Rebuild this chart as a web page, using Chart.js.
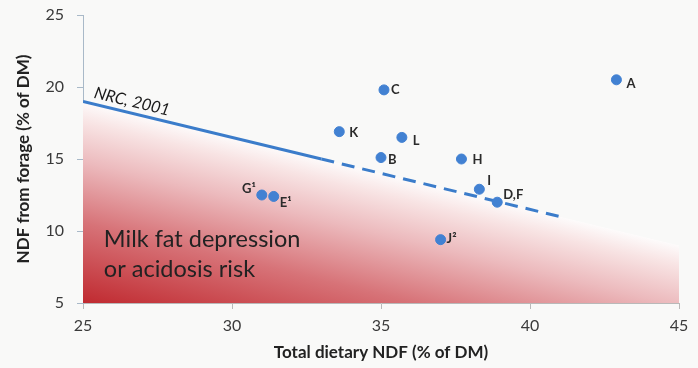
<!DOCTYPE html>
<html><head><meta charset="utf-8">
<script src="https://cdn.jsdelivr.net/npm/chart.js@4"></script>
<style>html,body{margin:0;padding:0;background:#f9f9f8;} #wrap{width:698px;height:368px;position:relative;}</style>
</head><body><div id="wrap"><canvas id="c"></canvas></div>
<script>
// ---- data ----
const pointLabels = ['A', 'C', 'K', 'L', 'B', 'H', 'I', 'D,F', 'G¹', 'E¹', 'J²'];
const pointX = [42.9, 35.1, 33.6, 35.7, 35.0, 37.7, 38.3, 38.9, 31.0, 31.4, 37.0];
const pointY = [20.5, 19.8, 16.9, 16.5, 15.1, 15.0, 12.9, 12.0, 12.5, 12.4, 9.4];
const nrcSolidX = [25, 33];
const nrcSolidY = [19, 15];
const nrcDashX = [33, 41];
const nrcDashY = [15, 11];
const riskX = [25, 45];
const riskY = [19, 9];
const xTicks = [25, 30, 35, 40, 45];
const yTicks = [5, 10, 15, 20, 25];
const nrcLabel = 'NRC, 2001';
const riskText = ['Milk fat depression', 'or acidosis risk'];
const xTitle = 'Total dietary NDF (% of DM)';
const yTitle = 'NDF from forage (% of DM)';

// ---- styling (not data) ----
const labelOffsets = [[10,4,'left'],[7,0,'left'],[10,1,'left'],[11,3,'left'],[7,2,'left'],[11,1,'left'],[8,-8,'left'],[6,-7,'left'],[-6,-6,'right'],[6,6,'left'],[6,-1,'left']];
const FONT = 'Lato, "Open Sans", sans-serif';

const toPts = (xs, ys) => xs.map((x, i) => ({x, y: ys[i]}));

function riskGradient(ctx) {
  const ch = ctx.chart, a = ch.chartArea;
  if (!a) return 'rgba(0,0,0,0)';
  const xs = ch.scales.x, ys = ch.scales.y;
  const p1 = {x: xs.getPixelForValue(riskX[0]), y: ys.getPixelForValue(riskY[0])};
  const p2 = {x: xs.getPixelForValue(riskX[1]), y: ys.getPixelForValue(riskY[1])};
  const dx = p2.x - p1.x, dy = p2.y - p1.y, len = Math.hypot(dx, dy);
  const nx = dy / len, ny = -dx / len;
  const x0 = a.left, y0 = a.bottom;
  const dist = (p1.x - x0) * nx + (p1.y - y0) * ny;
  const g = ch.ctx.createLinearGradient(x0, y0, x0 + nx * dist, y0 + ny * dist);
  g.addColorStop(0, 'rgb(192,42,48)');
  g.addColorStop(0.4, 'rgb(215,115,120)');
  g.addColorStop(0.7, 'rgb(236,186,189)');
  g.addColorStop(0.9, 'rgb(248,228,228)');
  g.addColorStop(1, 'rgb(253,251,251)');
  return g;
}

const labelPlugin = {
  id: 'labels',
  afterDatasetsDraw(chart) {
    const c = chart.ctx, xs = chart.scales.x, ys = chart.scales.y;
    c.save();
    // point labels
    c.font = 'bold 13px ' + FONT;
    c.fillStyle = '#2b2b2b';
    c.textBaseline = 'middle';
    pointLabels.forEach((t, i) => {
      const o = labelOffsets[i];
      c.textAlign = o[2];
      c.fillText(t, xs.getPixelForValue(pointX[i]) + o[0], ys.getPixelForValue(pointY[i]) + o[1]);
    });
    // NRC label along the line
    const p1 = {x: xs.getPixelForValue(nrcSolidX[0]), y: ys.getPixelForValue(nrcSolidY[0])};
    const p2 = {x: xs.getPixelForValue(nrcSolidX[1]), y: ys.getPixelForValue(nrcSolidY[1])};
    const ang = Math.atan2(p2.y - p1.y, p2.x - p1.x);
    c.translate(p1.x + 9 * Math.cos(ang), p1.y + 9 * Math.sin(ang));
    c.rotate(ang);
    c.font = 'italic 16.5px ' + FONT;
    c.textAlign = 'left';
    c.textBaseline = 'alphabetic';
    c.fillStyle = '#1a1a1a';
    c.fillText(nrcLabel, 0, -6);
    c.restore();
    // risk text
    c.save();
    c.font = '23.5px ' + FONT;
    c.fillStyle = '#222';
    c.textAlign = 'left';
    c.textBaseline = 'alphabetic';
    c.fillText(riskText[0], xs.getPixelForValue(25.7), ys.getPixelForValue(8.89));
    c.fillText(riskText[1], xs.getPixelForValue(25.7), ys.getPixelForValue(6.81));
    c.restore();
  }
};

new Chart(document.getElementById('c'), {
  type: 'scatter',
  data: {
    datasets: [
      {
        label: 'Diets',
        data: toPts(pointX, pointY),
        backgroundColor: '#4281d2',
        borderColor: '#4281d2',
        pointRadius: 5,
        pointHoverRadius: 5
      },
      {
        label: 'NRC solid',
        type: 'line',
        data: toPts(nrcSolidX, nrcSolidY),
        borderColor: '#3b7cca',
        borderWidth: 3,
        pointRadius: 0,
        fill: false
      },
      {
        label: 'NRC dashed',
        type: 'line',
        data: toPts(nrcDashX, nrcDashY),
        borderColor: '#3b7cca',
        borderWidth: 3,
        borderDash: [13, 8],
        pointRadius: 0,
        fill: false
      },
      {
        label: 'Risk',
        type: 'line',
        data: toPts(riskX, riskY),
        borderWidth: 0,
        borderColor: 'rgba(0,0,0,0)',
        pointRadius: 0,
        fill: 'start',
        backgroundColor: riskGradient
      }
    ]
  },
  options: {
    responsive: true,
    maintainAspectRatio: false,
    animation: false,
    events: [],
    layout: {padding: {top: 15, right: 19, left: 0, bottom: 0}},
    plugins: {legend: {display: false}, tooltip: {enabled: false}},
    scales: {
      x: {
        type: 'linear', min: 25, max: 45,
        afterBuildTicks: s => { s.ticks = xTicks.map(v => ({value: v})); },
        afterFit: s => { s.height = 65; s.paddingLeft = 0; s.paddingRight = 0; },
        grid: {drawOnChartArea: false, tickLength: 6, color: '#b9b9b9'},
        border: {color: '#b9b9b9', width: 1},
        ticks: {font: {family: FONT, size: 16}, color: '#3a3a3a', padding: 7},
        title: {display: true, text: xTitle, font: {family: FONT, size: 17, weight: 'bold'}, color: '#222', padding: {top: 2, bottom: 5}}
      },
      y: {
        type: 'linear', min: 5, max: 25,
        afterBuildTicks: s => { s.ticks = yTicks.map(v => ({value: v})); },
        afterFit: s => { s.width = 83; s.paddingTop = 0; s.paddingBottom = 0; },
        grid: {drawOnChartArea: false, tickLength: 6, color: '#a9b9c8'},
        border: {color: '#a9b9c8', width: 1},
        ticks: {font: {family: FONT, size: 16}, color: '#3a3a3a', padding: 13},
        title: {display: true, text: yTitle, font: {family: FONT, size: 17, weight: 'bold'}, color: '#222', padding: {top: 13, bottom: 0}}
      }
    }
  },
  plugins: [labelPlugin]
});
</script>
</body></html>
